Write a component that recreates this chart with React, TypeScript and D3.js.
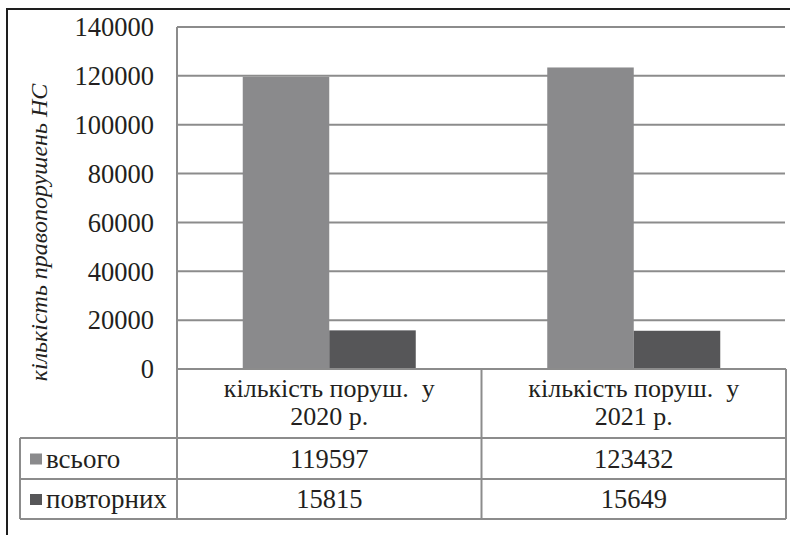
import React from "react";
import * as d3 from "d3";

// Categories (two text lines each), series names and values
const categories = ["2020", "2021"];
const categoryLine1 = ["кількість поруш.  у", "кількість поруш.  у"];
const categoryLine2 = ["2020 р.", "2021 р."];
const seriesNames = ["всього", "повторних"];
const seriesColors = ["#8a8a8c", "#565658"];
const totalValues = [119597, 123432];
const repeatValues = [15815, 15649];
const yTicks = [0, 20000, 40000, 60000, 80000, 100000, 120000, 140000];
const yTitle = "кількість правопорушень НС";

const W = 790;
const H = 535;
const plotLeft = 177;
const plotRight = 786;
const plotTop = 27;
const plotBottom = 369;
const tableLeft = 20;
const rowLines = [369, 438, 479, 519];

const TEXT = "#231f20";
const LINE = "#8c8c8c";

export default function App() {
  const y = d3.scaleLinear().domain([0, 140000]).range([plotBottom, plotTop]);
  const x = d3.scaleBand<string>().domain(categories).range([plotLeft, plotRight]).padding(0);
  const inner = d3
    .scaleBand<string>()
    .domain(seriesNames)
    .range([0, x.bandwidth()])
    .paddingInner(0)
    .paddingOuter(0.76);
  const seriesValues = [totalValues, repeatValues];

  return (
    <svg width={W} height={H} style={{ position: "absolute", left: 0, top: 0, background: "#fff" }}>
      <style>{`.chart-text { font-family: 'Times New Roman', 'Liberation Serif', Tinos, serif; fill: ${TEXT}; }`}</style>
      <rect x={0} y={0} width={W} height={H} fill="#fff" />
      {/* outer frame */}
      <rect x={7} y={9} width={W + 20} height={H + 20} fill="none" stroke="#1e1e1e" strokeWidth={2} />

      {/* gridlines */}
      {yTicks.map((t) => (
        <line key={"g" + t} x1={plotLeft} x2={plotRight - 1} y1={y(t)} y2={y(t)} stroke={LINE} strokeWidth={2} />
      ))}

      {/* bars */}
      {categories.map((c, ci) =>
        seriesNames.map((s, si) => {
          const v = seriesValues[si][ci];
          return (
            <rect
              key={c + s}
              x={(x(c) ?? 0) + (inner(s) ?? 0)}
              y={y(v)}
              width={inner.bandwidth()}
              height={y(0) - y(v)}
              fill={seriesColors[si]}
            />
          );
        })
      )}

      {/* y tick labels */}
      {yTicks.map((t) => (
        <text key={"t" + t} className="chart-text" x={154} y={y(t)} dy="0.35em" textAnchor="end" fontSize={26.5}>
          {String(t)}
        </text>
      ))}

      {/* y axis title, centred on plot plus category row */}
      <text
        className="chart-text"
        transform={`translate(47, ${(plotTop + rowLines[1]) / 2}) rotate(-90)`}
        textAnchor="middle"
        fontSize={24}
        fontStyle="italic"
      >
        {yTitle}
      </text>

      {/* data table lines */}
      <line x1={plotLeft} x2={plotLeft} y1={plotTop} y2={rowLines[3]} stroke={LINE} strokeWidth={2} />
      {rowLines.map((ry, i) => (
        <line
          key={"r" + i}
          x1={i === 0 ? plotLeft : tableLeft}
          x2={plotRight}
          y1={ry}
          y2={ry}
          stroke={LINE}
          strokeWidth={2}
        />
      ))}
      <line x1={tableLeft} x2={tableLeft} y1={rowLines[1]} y2={rowLines[3]} stroke={LINE} strokeWidth={2} />
      <line x1={plotRight} x2={plotRight} y1={rowLines[0]} y2={rowLines[3]} stroke={LINE} strokeWidth={2} />
      {categories.slice(1).map((c) => (
        <line key={"v" + c} x1={x(c)} x2={x(c)} y1={rowLines[0]} y2={rowLines[3]} stroke={LINE} strokeWidth={2} />
      ))}

      {/* category labels */}
      {categories.map((c, ci) => {
        const cx = (x(c) ?? 0) + x.bandwidth() / 2;
        return (
          <g key={"c" + c} textAnchor="middle">
            <text className="chart-text" x={cx} y={397} fontSize={26} style={{ whiteSpace: "pre" }}>
              {categoryLine1[ci]}
            </text>
            <text className="chart-text" x={cx} y={425} fontSize={26}>
              {categoryLine2[ci]}
            </text>
          </g>
        );
      })}

      {/* legend keys and values */}
      {seriesNames.map((s, si) => {
        const top = rowLines[si + 1];
        const bottom = rowLines[si + 2];
        const mid = (top + bottom) / 2;
        return (
          <g key={"l" + s}>
            <rect x={30} y={mid - 5} width={12} height={11} fill={seriesColors[si]} />
            <text className="chart-text" x={46} y={mid} dy="0.35em" fontSize={27}>
              {s}
            </text>
            {categories.map((c, ci) => (
              <text
                key={"v" + c}
                className="chart-text"
                x={(x(c) ?? 0) + x.bandwidth() / 2}
                y={mid}
                dy="0.35em"
                textAnchor="middle"
                fontSize={26.5}
              >
                {String(seriesValues[si][ci])}
              </text>
            ))}
          </g>
        );
      })}
    </svg>
  );
}
